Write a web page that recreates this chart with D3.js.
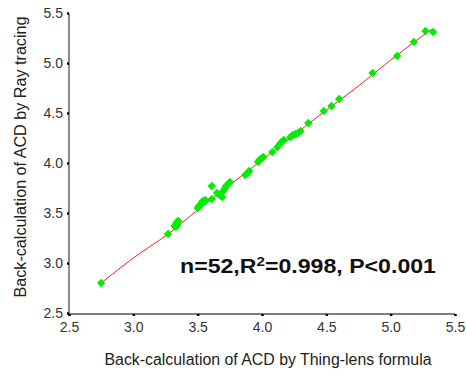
<!DOCTYPE html>
<html>
<head>
<meta charset="utf-8">
<script src="https://cdn.jsdelivr.net/npm/d3@7"></script>
<style>
  body { margin: 0; background: #fff; }
  svg text { font-family: Arial, "Liberation Sans", sans-serif; }
</style>
</head>
<body>
<svg id="chart" width="467" height="381"></svg>
<script>
// Thing-lens formula (x) vs Ray tracing (y)
const thingLens = [2.75, 3.27, 3.32, 3.33, 3.34, 3.35, 3.33, 3.34,
  3.50, 3.51, 3.52, 3.53, 3.54, 3.56, 3.55, 3.61, 3.61,
  3.65, 3.67, 3.69, 3.70, 3.71, 3.72, 3.74, 3.75,
  3.87, 3.89, 3.90, 3.97, 3.98, 3.99, 4.01, 4.00, 4.08,
  4.12, 4.14, 4.15, 4.17, 4.22, 4.24, 4.26, 4.28, 4.30,
  4.36, 4.48, 4.54, 4.60, 4.86, 5.05, 5.18, 5.27, 5.33];
const rayTracing = [2.80, 3.29, 3.37, 3.39, 3.41, 3.42, 3.36, 3.38,
  3.55, 3.57, 3.58, 3.60, 3.62, 3.63, 3.61, 3.77, 3.64,
  3.70, 3.68, 3.66, 3.72, 3.74, 3.77, 3.79, 3.81,
  3.88, 3.90, 3.92, 4.01, 4.03, 4.04, 4.06, 4.05, 4.11,
  4.16, 4.19, 4.21, 4.23, 4.26, 4.28, 4.29, 4.30, 4.32,
  4.40, 4.52, 4.57, 4.64, 4.90, 5.07, 5.21, 5.32, 5.31];

// red fit line knots
const fitX = [2.75, 3.0, 3.27, 3.5, 3.75, 4.0, 4.25, 4.5, 4.75, 5.0, 5.32];
const fitY = [2.80, 3.05, 3.29, 3.53, 3.78, 4.03, 4.28, 4.53, 4.77, 5.03, 5.34];

const ticks = [2.5, 3.0, 3.5, 4.0, 4.5, 5.0, 5.5];

const svg = d3.select('#chart');
const x = d3.scaleLinear().domain([2.5, 5.5]).range([69, 455]);
const y = d3.scaleLinear().domain([2.5, 5.5]).range([313, 13]);

// axes
const yAxis = svg.append('g')
  .attr('transform', 'translate(69,0)')
  .call(d3.axisLeft(y).tickValues(ticks).tickFormat(d3.format('.1f')).tickSize(2).tickPadding(4));
yAxis.select('.domain').attr('stroke', '#666').attr('stroke-width', 1.5).attr('d', 'M0,13V314');

const xAxis = svg.append('g')
  .attr('transform', 'translate(0,314)')
  .call(d3.axisBottom(x).tickValues(ticks).tickFormat(d3.format('.1f')).tickSize(2).tickPadding(6));
xAxis.select('.domain').attr('stroke', '#000').attr('stroke-width', 1.2).attr('d', 'M69,0H455');

svg.selectAll('.tick line').attr('stroke', '#000').attr('stroke-width', 2.5);
svg.selectAll('.tick text').attr('fill', '#333').style('font-size', '14px');

// fit line
const fit = fitX.map((v, i) => [v, fitY[i]]);
svg.append('path')
  .datum(fit)
  .attr('fill', 'none')
  .attr('stroke', '#ff2020')
  .attr('stroke-width', 1)
  .attr('d', d3.line().x(d => x(d[0])).y(d => y(d[1])).curve(d3.curveMonotoneX));

// points
const points = thingLens.map((v, i) => ({ tl: v, rt: rayTracing[i] }));
svg.append('g')
  .selectAll('path')
  .data(points)
  .enter()
  .append('path')
  .attr('d', d3.symbol().type(d3.symbolSquare).size(36))
  .attr('transform', d => `translate(${x(d.tl)},${y(d.rt)}) rotate(45)`)
  .attr('fill', '#00ee00');

// annotation
const note = svg.append('text')
  .attr('x', 180)
  .attr('y', 273)
  .attr('textLength', 256)
  .attr('lengthAdjust', 'spacingAndGlyphs')
  .style('font-size', '20px')
  .style('font-weight', 'bold')
  .attr('fill', '#111');
note.append('tspan').text('n=52,R');
note.append('tspan').attr('dy', -7).style('font-size', '13px').text('2');
note.append('tspan').attr('dy', 7).text('=0.998, P<0.001');

// axis titles
svg.append('text')
  .attr('x', 268)
  .attr('y', 365)
  .attr('text-anchor', 'middle')
  .attr('textLength', 327)
  .attr('lengthAdjust', 'spacingAndGlyphs')
  .attr('fill', '#222')
  .style('font-size', '16px')
  .text('Back-calculation of ACD by Thing-lens formula');

svg.append('text')
  .attr('transform', 'translate(26,157) rotate(-90)')
  .attr('text-anchor', 'middle')
  .attr('textLength', 281)
  .attr('lengthAdjust', 'spacingAndGlyphs')
  .attr('fill', '#222')
  .style('font-size', '16px')
  .text('Back-calculation of ACD by Ray tracing');
</script>
</body>
</html>
